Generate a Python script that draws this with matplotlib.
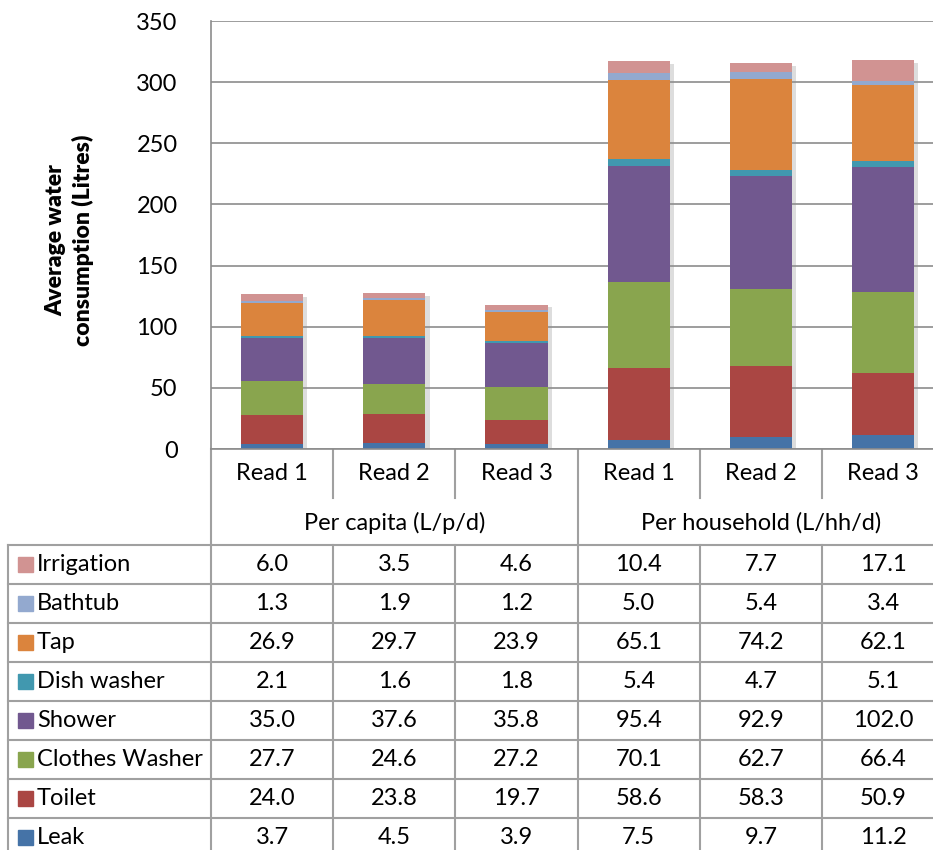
import numpy as np
import matplotlib
matplotlib.use("Agg")
import matplotlib.pyplot as plt
import matplotlib.patheffects as pe

plt.rcParams["font.family"] = ["Lato", "DejaVu Sans"]

# table data, top row first (as printed under the chart)
categories = ["Irrigation", "Bathtub", "Tap", "Dish washer", "Shower",
              "Clothes Washer", "Toilet", "Leak"]
irrigation = [6.0, 3.5, 4.6, 10.4, 7.7, 17.1]
bathtub = [1.3, 1.9, 1.2, 5.0, 5.4, 3.4]
tap = [26.9, 29.7, 23.9, 65.1, 74.2, 62.1]
dish_washer = [2.1, 1.6, 1.8, 5.4, 4.7, 5.1]
shower = [35.0, 37.6, 35.8, 95.4, 92.9, 102.0]
clothes_washer = [27.7, 24.6, 27.2, 70.1, 62.7, 66.4]
toilet = [24.0, 23.8, 19.7, 58.6, 58.3, 50.9]
leak = [3.7, 4.5, 3.9, 7.5, 9.7, 11.2]
series = [irrigation, bathtub, tap, dish_washer, shower, clothes_washer, toilet, leak]
colors = ["#D19392", "#93A9CF", "#DB843D", "#4198AF", "#71588F",
          "#89A54E", "#AA4643", "#4573A7"]

reads = ["Read 1", "Read 2", "Read 3", "Read 1", "Read 2", "Read 3"]
groups = ["Per capita (L/p/d)", "Per household (L/hh/d)"]

W, H = 933, 850
fig = plt.figure(figsize=(W / 100, H / 100), dpi=100)

# geometry in pixels
x0, colw = 211, 122.2
ncol = len(reads)
y_zero, y_top = 449, 21
ax = fig.add_axes([x0 / W, (H - y_zero) / H, ncol * colw / W, (y_zero - y_top) / H])

x = np.arange(ncol)
totals = np.sum(series, axis=0)
# soft drop shadow behind the whole stack
ax.bar(x, totals, width=0.51, color="white", zorder=1,
       path_effects=[pe.SimplePatchShadow(offset=(3, -2), shadow_rgbFace="#909090", alpha=0.3)])
bottom = np.zeros(ncol)
for vals, c in zip(series[::-1], colors[::-1]):
    ax.bar(x, vals, width=0.51, bottom=bottom, color=c, zorder=2)
    bottom += np.array(vals)

ax.set_xlim(-0.5, ncol - 0.5)
ax.set_ylim(0, 350)
ax.set_yticks(np.arange(0, 351, 50))
ax.yaxis.grid(True, color="#8C8C8C", lw=1.2)
ax.set_axisbelow(True)
ax.set_xticks([])
ax.tick_params(axis="y", length=0, pad=24, labelsize=17, colors="black")
for s in ["top", "right"]:
    ax.spines[s].set_visible(False)
for s in ["left", "bottom"]:
    ax.spines[s].set_color("#8C8C8C")
    ax.spines[s].set_linewidth(1.2)

fig.text(70 / W, 1 - 240 / H, "Average water\nconsumption (Litres)", rotation=90,
         ha="center", va="center", fontsize=16.5, fontweight="heavy", linespacing=1.3)

# overlay in pixel coordinates for the data table
tab = fig.add_axes([0, 0, 1, 1], zorder=-1)
tab.set_xlim(0, W)
tab.set_ylim(H, 0)
tab.axis("off")
lc = dict(color="#A0A0A0", lw=1.5)

col_edges = [x0 + i * colw for i in range(ncol + 1)]
col_mid = [x0 + (i + 0.5) * colw for i in range(ncol)]

# category rows
r1, r2, r3 = 449, 498, 545
for i, e in enumerate(col_edges[:-1]):
    tab.plot([e, e], [r1, r3 if i % 3 == 0 else r2], **lc)
for i, lab in enumerate(reads):
    tab.text(col_mid[i], (r1 + r2) / 2, lab, ha="center", va="center", fontsize=17)
for g, lab in enumerate(groups):
    tab.text(x0 + (g * 3 + 1.5) * colw, (r2 + r3) / 2 + 1, lab, ha="center", va="center", fontsize=17)

# data rows
left = 8
rowh = 39
ys = [r3 + k * rowh for k in range(len(categories) + 1)]
for y in ys:
    tab.plot([left, W], [y, y], **lc)
for e in [left] + col_edges:
    tab.plot([e, e], [r3, H + 5], **lc)
for k, (cat, vals, c) in enumerate(zip(categories, series, colors)):
    yc = ys[k] + rowh / 2
    tab.add_patch(plt.Rectangle((18, yc - 8), 15, 15, color=c))
    tab.text(37, yc, cat, ha="left", va="center", fontsize=17)
    for i, v in enumerate(vals):
        tab.text(col_mid[i], yc, f"{v:.1f}", ha="center", va="center", fontsize=17)

fig.savefig("out.png", dpi=100)
